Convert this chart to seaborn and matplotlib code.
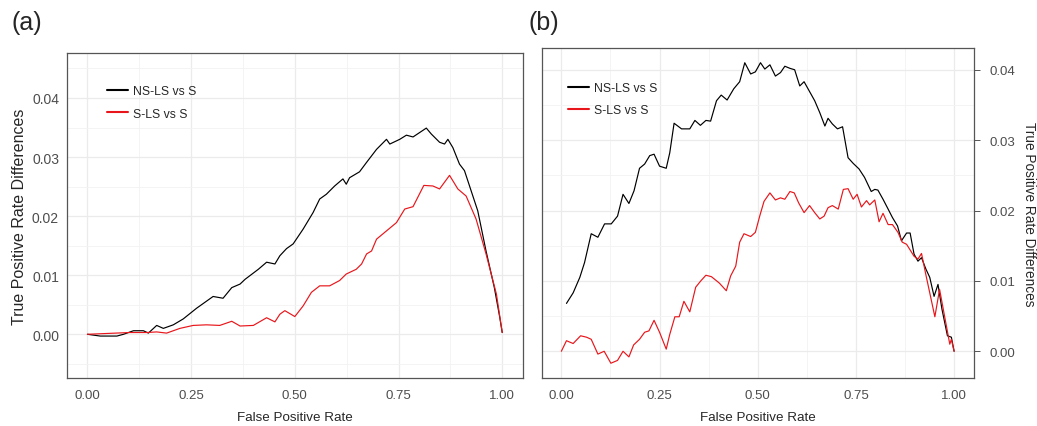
import numpy as np
import pandas as pd
import matplotlib
matplotlib.use('Agg')
import matplotlib.pyplot as plt
import seaborn as sns
from matplotlib.ticker import MultipleLocator

# ---------------- data ----------------
# panel (a): fine-grained ROC differences
a_ns_fpr = [0.0, 0.031, 0.071, 0.087, 0.111, 0.135, 0.147, 0.167, 0.183, 0.207, 0.231, 0.263,
            0.303, 0.327, 0.348, 0.368, 0.380, 0.412, 0.432, 0.452, 0.464, 0.480, 0.496, 0.520,
            0.544, 0.560, 0.576, 0.596, 0.616, 0.624, 0.632, 0.656, 0.673, 0.697, 0.721, 0.729,
            0.753, 0.769, 0.785, 0.817, 0.829, 0.849, 0.861, 0.869, 0.881, 0.897, 0.909, 0.925,
            0.941, 0.961, 0.981, 0.994, 1.0]
a_ns_tpr = [0.0, -0.0003, -0.0003, 0.0, 0.0006, 0.0006, 0.0002, 0.0015, 0.0010, 0.0016, 0.0026,
            0.0044, 0.0064, 0.0061, 0.0079, 0.0085, 0.0093, 0.0110, 0.0122, 0.0119, 0.0133, 0.0145,
            0.0153, 0.0178, 0.0206, 0.0229, 0.0237, 0.0251, 0.0263, 0.0254, 0.0265, 0.0275, 0.0291,
            0.0313, 0.0330, 0.0322, 0.0330, 0.0337, 0.0334, 0.0349, 0.0339, 0.0325, 0.0322, 0.0330,
            0.0316, 0.0288, 0.0277, 0.0243, 0.0209, 0.0141, 0.0079, 0.0029, 0.0003]
a_s_fpr = [0.0, 0.103, 0.143, 0.167, 0.191, 0.223, 0.255, 0.287, 0.319, 0.348, 0.368, 0.400,
           0.432, 0.452, 0.464, 0.476, 0.500, 0.520, 0.540, 0.560, 0.584, 0.608, 0.624, 0.648,
           0.661, 0.673, 0.685, 0.697, 0.721, 0.745, 0.765, 0.785, 0.811, 0.833, 0.849, 0.873,
           0.893, 0.913, 0.937, 0.961, 0.986, 1.0]
a_s_tpr = [0.0, 0.0003, 0.0003, 0.0004, 0.0002, 0.0010, 0.0015, 0.0016, 0.0015, 0.0022, 0.0014,
           0.0015, 0.0028, 0.0021, 0.0034, 0.0040, 0.0030, 0.0048, 0.0071, 0.0082, 0.0082, 0.0091,
           0.0102, 0.0110, 0.0119, 0.0136, 0.0141, 0.0161, 0.0175, 0.0189, 0.0212, 0.0216, 0.0252,
           0.0251, 0.0246, 0.0269, 0.0246, 0.0234, 0.0195, 0.0136, 0.0068, 0.0003]

# panel (b): coarse ROC differences
b_ns_fpr = [0.013, 0.030, 0.047, 0.059, 0.076, 0.093, 0.110, 0.127, 0.143, 0.157, 0.172, 0.185,
            0.199, 0.212, 0.225, 0.236, 0.250, 0.267, 0.276, 0.287, 0.306, 0.327, 0.340, 0.354,
            0.368, 0.380, 0.395, 0.407, 0.422, 0.439, 0.454, 0.467, 0.482, 0.494, 0.507, 0.518,
            0.531, 0.545, 0.558, 0.569, 0.582, 0.594, 0.607, 0.618, 0.632, 0.645, 0.658, 0.671,
            0.679, 0.690, 0.703, 0.716, 0.730, 0.743, 0.758, 0.772, 0.789, 0.798, 0.806, 0.819,
            0.832, 0.843, 0.856, 0.866, 0.879, 0.888, 0.898, 0.908, 0.917, 0.928, 0.938, 0.949,
            0.959, 0.969, 0.983, 0.993, 1.0]
b_ns_tpr = [0.0068, 0.0083, 0.0105, 0.0126, 0.0167, 0.0162, 0.0181, 0.0181, 0.0192, 0.0223, 0.0210,
            0.0228, 0.0260, 0.0266, 0.0278, 0.0280, 0.0263, 0.0260, 0.0282, 0.0324, 0.0316, 0.0316,
            0.0328, 0.0321, 0.0328, 0.0327, 0.0356, 0.0364, 0.0357, 0.0373, 0.0383, 0.0410, 0.0394,
            0.0397, 0.0410, 0.0401, 0.0407, 0.0391, 0.0396, 0.0405, 0.0402, 0.0400, 0.0377, 0.0383,
            0.0369, 0.0356, 0.0339, 0.0320, 0.0331, 0.0323, 0.0316, 0.0319, 0.0275, 0.0267, 0.0259,
            0.0247, 0.0227, 0.0230, 0.0229, 0.0216, 0.0202, 0.0190, 0.0178, 0.0157, 0.0168, 0.0168,
            0.0138, 0.0128, 0.0133, 0.0117, 0.0105, 0.0078, 0.0095, 0.0060, 0.0022, 0.0020, 0.0000]
b_s_fpr = [0.0, 0.013, 0.030, 0.049, 0.064, 0.076, 0.093, 0.109, 0.126, 0.143, 0.157, 0.172,
           0.184, 0.199, 0.212, 0.223, 0.236, 0.250, 0.267, 0.276, 0.289, 0.300, 0.312, 0.327,
           0.342, 0.355, 0.368, 0.382, 0.402, 0.420, 0.431, 0.444, 0.454, 0.465, 0.482, 0.494,
           0.505, 0.516, 0.531, 0.545, 0.558, 0.569, 0.582, 0.593, 0.604, 0.618, 0.632, 0.645,
           0.658, 0.669, 0.679, 0.690, 0.705, 0.718, 0.730, 0.743, 0.753, 0.764, 0.777, 0.785,
           0.798, 0.809, 0.819, 0.832, 0.843, 0.857, 0.868, 0.879, 0.898, 0.908, 0.917, 0.928,
           0.938, 0.951, 0.963, 0.974, 0.989, 0.993, 1.0]
b_s_tpr = [0.0, 0.0015, 0.0011, 0.0022, 0.0020, 0.0017, -0.0004, 0.0000, -0.0017, -0.0013, 0.0000,
           -0.0008, 0.0009, 0.0017, 0.0027, 0.0029, 0.0044, 0.0027, 0.0003, 0.0024, 0.0049, 0.0049,
           0.0071, 0.0056, 0.0091, 0.0100, 0.0108, 0.0106, 0.0097, 0.0086, 0.0107, 0.0121, 0.0155,
           0.0167, 0.0163, 0.0169, 0.0192, 0.0213, 0.0225, 0.0215, 0.0218, 0.0216, 0.0227, 0.0225,
           0.0211, 0.0197, 0.0207, 0.0197, 0.0188, 0.0192, 0.0204, 0.0207, 0.0202, 0.0230, 0.0231,
           0.0216, 0.0223, 0.0205, 0.0214, 0.0208, 0.0215, 0.0184, 0.0196, 0.0180, 0.0180, 0.0169,
           0.0155, 0.0152, 0.0135, 0.0131, 0.0139, 0.0109, 0.0083, 0.0049, 0.0088, 0.0055, 0.0010,
           0.0017, 0.0000]

labels = ['NS-LS vs S', 'S-LS vs S']
colors = {'NS-LS vs S': 'black', 'S-LS vs S': '#E8161B'}
x_ticks = [0.0, 0.25, 0.5, 0.75, 1.0]
y_ticks = [0.0, 0.01, 0.02, 0.03, 0.04]


def make_df(ns_x, ns_y, s_x, s_y):
    return pd.concat([
        pd.DataFrame({'fpr': ns_x, 'tpr': ns_y, 'model': labels[0]}),
        pd.DataFrame({'fpr': s_x, 'tpr': s_y, 'model': labels[1]}),
    ], ignore_index=True)


df_a = make_df(a_ns_fpr, a_ns_tpr, a_s_fpr, a_s_tpr)
df_b = make_df(b_ns_fpr, b_ns_tpr, b_s_fpr, b_s_tpr)

sns.set_style('white')
plt.rcParams['font.family'] = ['Liberation Sans', 'DejaVu Sans']

fig = plt.figure(figsize=(10.37, 4.27), dpi=100)
ax1 = fig.add_axes([0.0643, 0.1124, 0.440, 0.761])
ax2 = fig.add_axes([0.5224, 0.1124, 0.4166, 0.773])


def style_axis(ax, ylim, right=False):
    ax.set_xlim(-0.05, 1.05)
    ax.set_ylim(*ylim)
    ax.set_xticks(x_ticks)
    ax.set_xticklabels(['0.00', '0.25', '0.50', '0.75', '1.00'])
    ax.set_yticks(y_ticks)
    ax.set_yticklabels(['0.00', '0.01', '0.02', '0.03', '0.04'])
    ax.xaxis.set_minor_locator(MultipleLocator(0.125))
    ax.yaxis.set_minor_locator(MultipleLocator(0.005))
    ax.grid(which='major', color='#EBEBEB', linewidth=0.9)
    ax.grid(which='minor', color='#F3F3F3', linewidth=0.6)
    ax.set_axisbelow(True)
    for s in ax.spines.values():
        s.set_color('#555555')
        s.set_linewidth(0.9)
    ax.tick_params(which='major', direction='out', length=3.5, width=0.7, color='#555555',
                   labelcolor='#4D4D4D')
    ax.tick_params(axis='x', labelsize=9.5, pad=4.5)
    ax.tick_params(which='minor', length=0)
    ax.set_xlabel('False Positive Rate', fontsize=9.6, va='center')
    if right:
        ax.yaxis.tick_right()
        ax.tick_params(axis='y', labelsize=9.5, pad=7, length=4)
        ax.set_ylabel('True Positive Rate Differences', fontsize=9.8, rotation=270,
                      va='center', ha='center')
        ax.yaxis.set_label_position('right')
        ax.yaxis.label.set_verticalalignment('center')
        ax.yaxis.set_label_coords(1.128, 0.5)
        ax.xaxis.set_label_coords(0.5, -0.118)
    else:
        ax.tick_params(axis='y', labelsize=10, pad=2)
        ax.set_ylabel('True Positive Rate Differences', fontsize=11.5, va='center')
        ax.yaxis.set_label_coords(-0.104, 0.5)
        ax.xaxis.set_label_coords(0.5, -0.12)
    leg = ax.legend(loc='upper left', bbox_to_anchor=(0.06, 0.94), frameon=False,
                    fontsize=8.8, handlelength=1.7, handletextpad=0.4, labelspacing=0.85)
    for line in leg.get_lines():
        line.set_linewidth(1.5)
    return leg


sns.lineplot(data=df_a, x='fpr', y='tpr', hue='model', palette=colors, sort=False,
             estimator=None, linewidth=0.85, ax=ax1)
style_axis(ax1, (-0.0074, 0.0476))
ax1.legend_.set_bbox_to_anchor((0.065, 0.935))

sns.lineplot(data=df_b, x='fpr', y='tpr', hue='model', palette=colors, sort=False,
             estimator=None, linewidth=0.85, ax=ax2)
style_axis(ax2, (-0.0038, 0.0431), right=True)
ax2.legend_.set_bbox_to_anchor((0.035, 0.93))

fig.text(0.011, 0.93, '(a)', fontsize=18, va='baseline')
fig.text(0.510, 0.93, '(b)', fontsize=18, va='baseline')

fig.savefig('out.png', dpi=100)
